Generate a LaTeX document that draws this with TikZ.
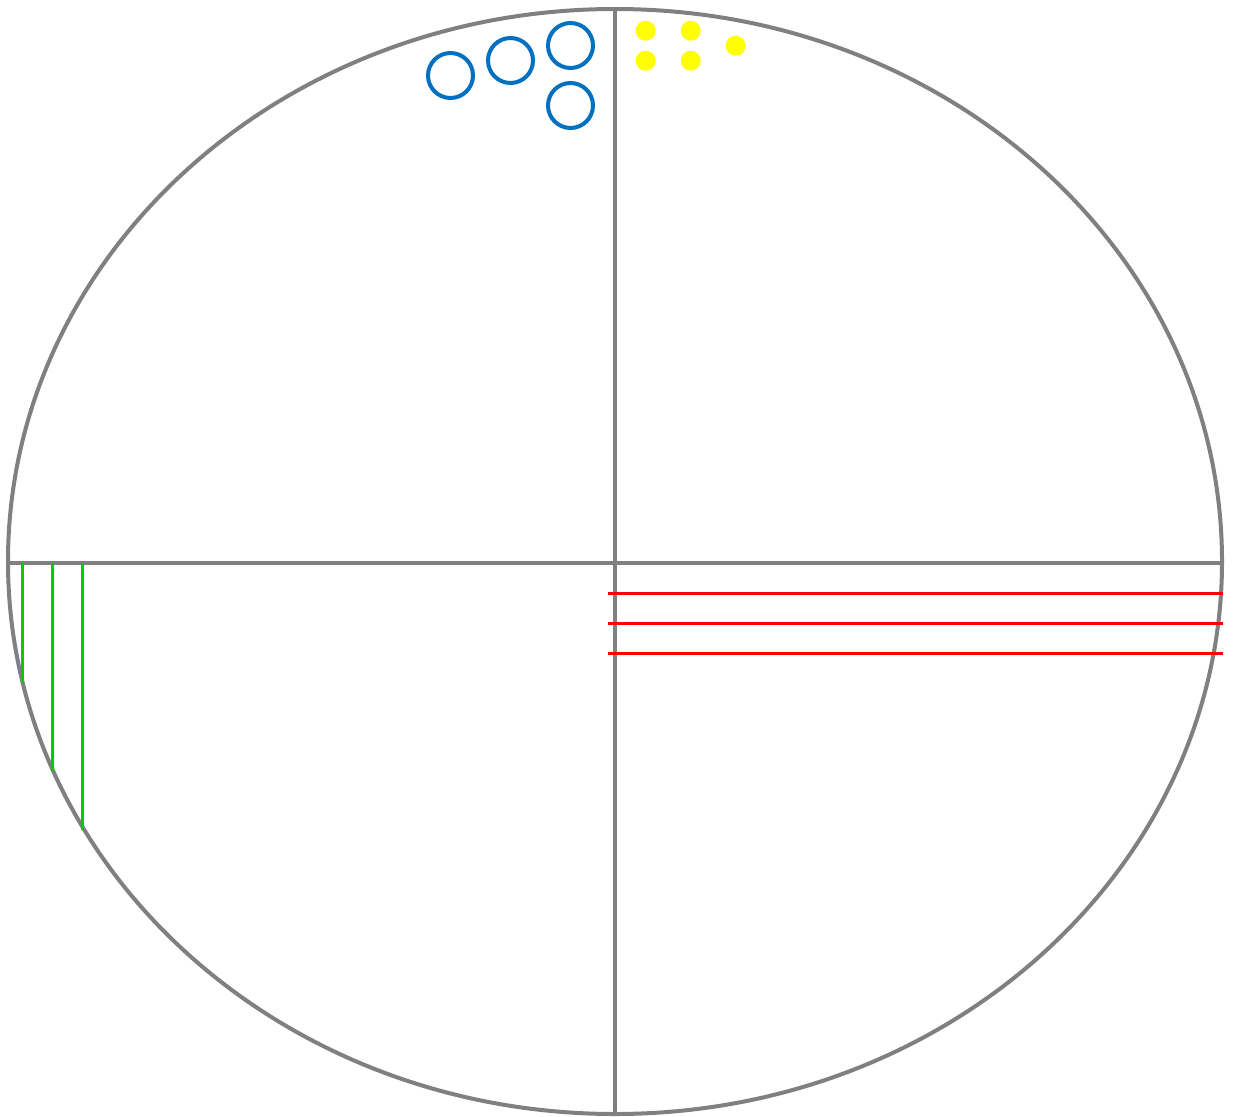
\documentclass[tikz,border=0pt]{standalone}
\definecolor{axisgray}{RGB}{128,128,128}
\definecolor{ringblue}{RGB}{0,112,192}
\definecolor{dotyellow}{RGB}{255,255,0}
\definecolor{hatchgreen}{RGB}{0,204,0}
\definecolor{hatchred}{RGB}{255,0,0}
\begin{document}
\begin{tikzpicture}[x=1pt,y=-1pt,
  outline/.style={draw=axisgray,line width=4pt},
  axisline/.style={draw=axisgray,line width=3.5pt},
  ring/.style={circle,draw=ringblue,line width=4pt,minimum size=45pt,inner sep=0pt},
  dot/.style={circle,fill=dotyellow,minimum size=20pt,inner sep=0pt},
  gline/.style={draw=hatchgreen,line width=3.3pt},
  rline/.style={draw=hatchred,line width=3.3pt}]
\useasboundingbox (0,0) rectangle (1233,1116);
\fill[white] (0,0) rectangle (1233,1116);
\coordinate (c) at (615,561.5);
\draw[outline] (c) ellipse [x radius=607, y radius=552.5];
\coordinate (top) at (615,9);
\coordinate (bot) at (615,1114);
\coordinate (lft) at (8,563);
\coordinate (rgt) at (1222,563);
\draw[axisline] (top) -- (bot);
\draw[axisline] (lft) -- (rgt);
% blue rings
\node[ring] (r1) at (450.5,75.5) {};
\node[ring] (r2) at (510.5,60.5) {};
\node[ring] (r3) at (570.5,45.5) {};
\node[ring] (r4) at (570.5,105.5) {};
% yellow dots
\node[dot] (y1) at (645.7,30.7) {};
\node[dot] (y2) at (690.7,30.7) {};
\node[dot] (y3) at (735.7,45.7) {};
\node[dot] (y4) at (645.7,60.7) {};
\node[dot] (y5) at (690.7,60.7) {};
% green lines
\coordinate (g1a) at (22.7,563); \coordinate (g1b) at (22.7,683);
\coordinate (g2a) at (52.7,563); \coordinate (g2b) at (52.7,771);
\coordinate (g3a) at (82.7,563); \coordinate (g3b) at (82.7,830);
\draw[gline] (g1a) -- (g1b);
\draw[gline] (g2a) -- (g2b);
\draw[gline] (g3a) -- (g3b);
% red lines
\coordinate (h1a) at (608,593.5); \coordinate (h1b) at (1222.5,593.5);
\coordinate (h2a) at (608,623.5); \coordinate (h2b) at (1222.5,623.5);
\coordinate (h3a) at (608,653.5); \coordinate (h3b) at (1222.5,653.5);
\draw[rline] (h1a) -- (h1b);
\draw[rline] (h2a) -- (h2b);
\draw[rline] (h3a) -- (h3b);
\end{tikzpicture}
\end{document}
